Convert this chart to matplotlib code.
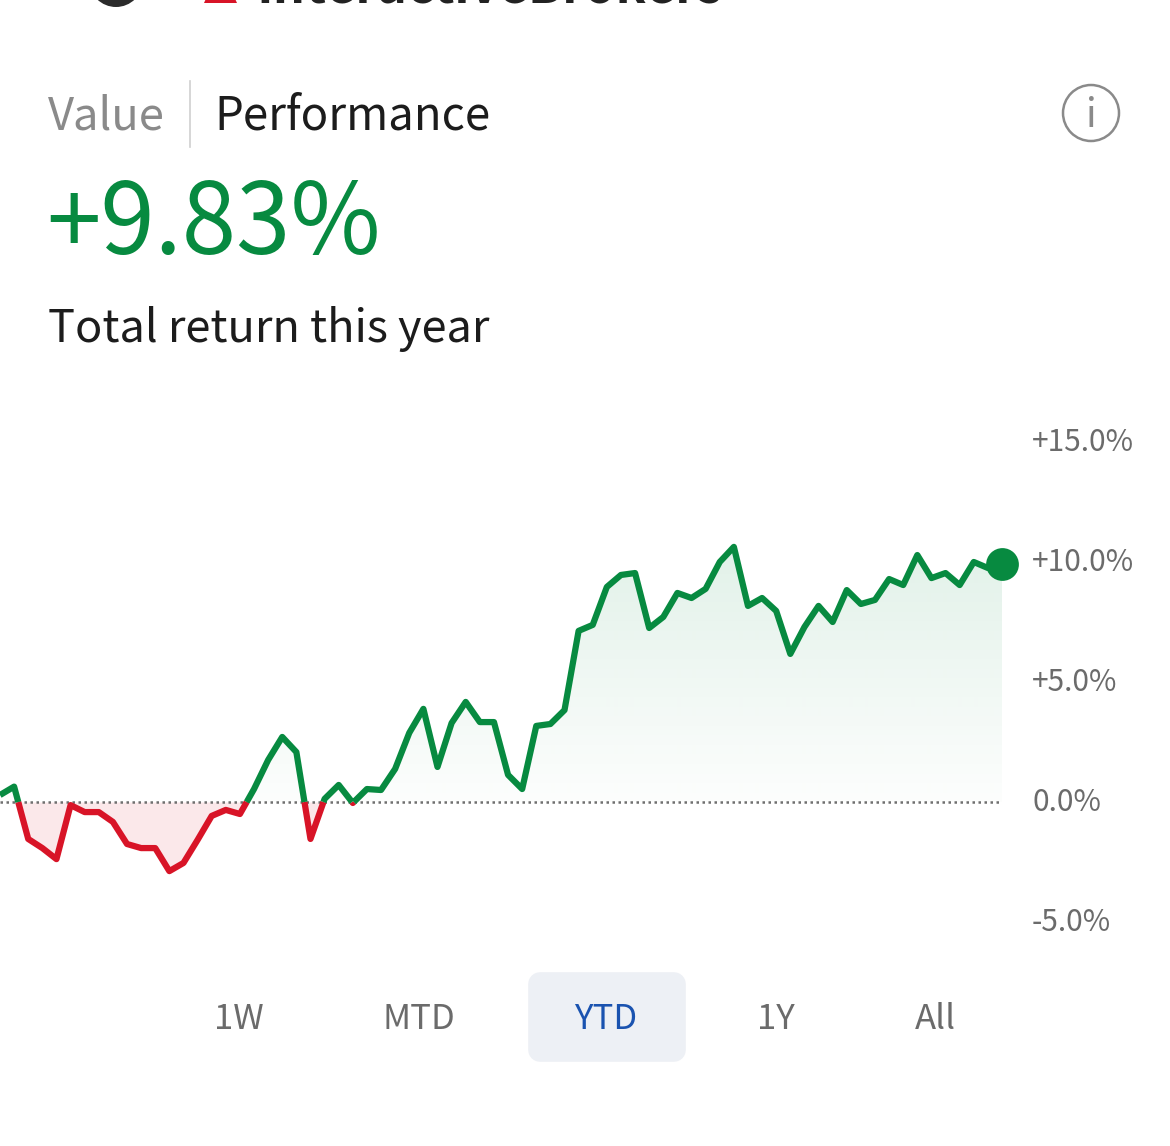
import numpy as np
import matplotlib
matplotlib.use("Agg")
import matplotlib.pyplot as plt
from matplotlib.patches import Circle, FancyBboxPatch, Polygon
from matplotlib.path import Path
from matplotlib.transforms import ScaledTranslation

W, H = 1170, 1146
plt.rcParams['font.family'] = ['Noto Sans CJK SC', 'DejaVu Sans']

returns_pct = [
    0.29, 0.64, -1.54, -1.92, -2.38, -0.13, -0.42, -0.42, -0.83, -1.75,
    -1.92, -1.92, -2.88, -2.54, -1.58, -0.58, -0.33, -0.50, 0.54, 1.75,
    2.71, 2.08, -1.54, 0.13, 0.71, -0.04, 0.54, 0.50, 1.38, 2.88,
    3.88, 1.46, 3.29, 4.17, 3.33, 3.33, 1.13, 0.54, 3.17, 3.25,
    3.83, 7.13, 7.38, 8.96, 9.46, 9.54, 7.25, 7.71, 8.71, 8.50,
    8.88, 10.00, 10.63, 8.17, 8.50, 7.96, 6.17, 7.29, 8.17, 7.50,
    8.83, 8.25, 8.42, 9.29, 9.04, 10.29, 9.33, 9.54, 9.04, 10.00,
    9.75, 9.92,
]
y_ticks = [-5, 0, 5, 10, 15]
y_tick_labels = ["-5.0%", "0.0%", "+5.0%", "+10.0%", "+15.0%"]
range_tabs = ["1W", "MTD", "YTD", "1Y", "All"]
range_tab_x = [239, 419, 606, 776, 935]

GREEN = "#078a40"
RED = "#d81427"
GREY = "#6b6b6b"


def px_text(x, y, s, **kw):
    return fig.text(x / W, 1 - y / H, s, **kw)


def add_zero_crossings(y):
    xs, ys = [0.0], [y[0]]
    for i in range(1, len(y)):
        if y[i - 1] * y[i] < 0:
            xs.append(i - 1 + y[i - 1] / (y[i - 1] - y[i]))
            ys.append(0.0)
        xs.append(float(i))
        ys.append(y[i])
    return np.array(xs), np.array(ys)


fig = plt.figure(figsize=(W / 100, H / 100), dpi=100, facecolor="white")

# overlay in pixel coords for the app chrome
bg = fig.add_axes([0, 0, 1, 1])
bg.set_xlim(0, W)
bg.set_ylim(H, 0)
bg.axis("off")

# cut-off logo at the top
bg.add_patch(Circle((116, -20), 27, fc="#2b2b2b", ec="none"))
bg.add_patch(Polygon([[204, 3], [237, 3], [232, -8], [209, -8]], fc=RED, ec="none"))
px_text(256, 4, "InteractiveBrokers", fontsize=36.2, fontweight="bold", color="#222222", va="baseline")

px_text(48, 129, "Value", fontsize=32.6, color="#8a8a8a", va="baseline")
bg.plot([190, 190], [81, 147], color="#cfcfcf", lw=1.2)
px_text(214, 129, "Performance", fontsize=32.8, color="#1c1c1c", va="baseline")
bg.add_patch(Circle((1091, 113), 28, fc="none", ec="#8a8a8a", lw=1.8))
px_text(1091, 127, "i", fontsize=28, color="#8a8a8a", ha="center", va="baseline")

px_text(46, 254, "+9.83%", fontsize=70.5, color=GREEN, va="baseline")
px_text(48, 342, "Total return this year", fontsize=32.5, color="#1c1c1c", va="baseline")

# range selector
bg.add_patch(FancyBboxPatch((540, 984), 134, 66, boxstyle="round,pad=0,rounding_size=0", fc="#edf0f5", ec="#edf0f5", lw=17, joinstyle="round"))
for label, x in zip(range_tabs, range_tab_x):
    color = "#1a53b0" if label == "YTD" else GREY
    px_text(x, 1029, label, fontsize=25, color=color, ha="center", va="baseline")

# chart
ax = fig.add_axes([0, (H - 922) / H, 1002 / W, 480 / H])
ax.patch.set_alpha(0)
y = np.array(returns_pct)
xs, ys = add_zero_crossings(y)

green_fill = ax.fill_between(xs, np.maximum(ys, 0), 0, color="none", lw=0)
grad = np.linspace(0, 1, 256)[:, None]
rgba = np.ones((256, 1, 4))
rgba[..., :3] = matplotlib.colors.to_rgb(GREEN)
rgba[..., 3] = 0.012 + 0.105 * grad
img = ax.imshow(rgba, origin="lower", aspect="auto", extent=[0, len(y) - 1, 0, y.max()], zorder=1, interpolation="bilinear")
clip = Path.make_compound_path(*green_fill.get_paths())
img.set_clip_path(clip, transform=ax.transData)
ax.fill_between(xs, np.minimum(ys, 0), 0, color=RED, alpha=0.095, lw=0, zorder=1)

ax.axhline(0, color="#6f6f6f", lw=1.8, ls=(0, (1, 1.4)), zorder=2, xmax=0.998)
ax.plot(xs, np.ma.masked_where(ys > 0, ys), color=RED, lw=4.5, solid_joinstyle="round", solid_capstyle="butt", zorder=3)
ax.plot(xs, np.ma.masked_where(ys < 0, ys), color=GREEN, lw=4.5, solid_joinstyle="round", solid_capstyle="butt", zorder=4)
ax.plot([len(y) - 1], [y[-1]], "o", color=GREEN, ms=23.6, mew=0, clip_on=False, zorder=5)

ax.set_xlim(0, len(y) - 1)
ax.set_ylim(-5, 15)
ax.set_xticks([])
ax.yaxis.tick_right()
ax.set_yticks(y_ticks)
ax.set_yticklabels(y_tick_labels, fontsize=21.5, color=GREY)
ax.tick_params(axis="y", length=0, pad=21.6)
for label in ax.get_yticklabels():
    label.set_transform(label.get_transform() + ScaledTranslation(0, 2.5 / 72, fig.dpi_scale_trans))
for side in ax.spines:
    ax.spines[side].set_visible(False)

fig.savefig("out.png", dpi=100)
